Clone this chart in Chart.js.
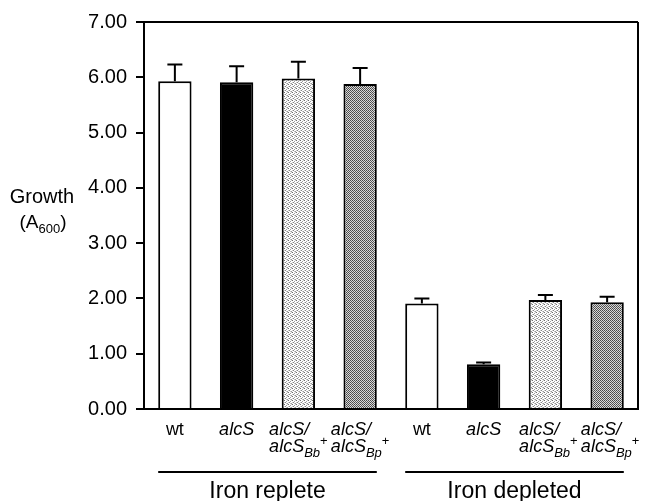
<!DOCTYPE html>
<html>
<head>
<meta charset="utf-8">
<script src="https://cdn.jsdelivr.net/npm/chart.js@4"></script>
<style>
  html, body { margin: 0; padding: 0; background: #fff; }
  #wrap { width: 645px; height: 501px; position: relative; }
</style>
</head>
<body>
<div id="wrap"><canvas id="c"></canvas></div>
<script>
// ---- data ----
const categories = ['wt', 'alcS', 'alcS/alcSBb+', 'alcS/alcSBp+', 'wt', 'alcS', 'alcS/alcSBb+', 'alcS/alcSBp+'];
const labelMarkup = ['wt', 'alcS', 'alcS/|alcS_{Bb}^{+}', 'alcS/|alcS_{Bp}^{+}', 'wt', 'alcS', 'alcS/|alcS_{Bb}^{+}', 'alcS/|alcS_{Bp}^{+}'];
const labelItalic = [false, true, true, true, false, true, true, true];
const growth = [5.93, 5.91, 5.98, 5.88, 1.91, 0.81, 1.97, 1.93];
const growthErr = [0.30, 0.29, 0.30, 0.29, 0.09, 0.03, 0.09, 0.10];
const yTickValues = [0, 1, 2, 3, 4, 5, 6, 7];
const groupLabels = ['Iron replete', 'Iron depleted'];
const groupFirst = [0, 4];
const groupLast = [3, 7];
const yTitleLine1 = 'Growth';
const yTitleLine2 = '(A_{600})';
const fillKinds = ['white', 'black', 'light', 'dark', 'white', 'black', 'light', 'dark'];

const FONT = '"Liberation Sans", Arial, Helvetica, sans-serif';

function makePattern(cells, size) {
  const p = document.createElement('canvas');
  p.width = size; p.height = size;
  const g = p.getContext('2d');
  g.fillStyle = '#ffffff';
  g.fillRect(0, 0, size, size);
  cells.forEach(([x, y, c]) => { g.fillStyle = c; g.fillRect(x, y, 1, 1); });
  return g.createPattern(p, 'repeat');
}
const lightPat = makePattern([[0, 0, '#6e6e6e'], [2, 1, '#a0a0a0'], [1, 2, '#858585'], [3, 3, '#9a9a9a'], [2, 3, '#c5c5c5'], [0, 2, '#cccccc'], [3, 0, '#d0d0d0']], 4);
const darkPat = makePattern([[0, 0, '#484848'], [1, 1, '#585858'], [0, 1, '#dcdcdc'], [1, 0, '#d4d4d4']], 2);
const fillMap = { white: '#ffffff', black: '#000000', light: lightPat, dark: darkPat };

function parseRich(s) {
  const out = [];
  const re = /(_\{[^}]*\}|\^\{[^}]*\})/;
  s.split(re).forEach(part => {
    if (!part) return;
    if (part.startsWith('_{')) out.push({ t: part.slice(2, -1), m: 'sub' });
    else if (part.startsWith('^{')) out.push({ t: part.slice(2, -1), m: 'sup' });
    else out.push({ t: part, m: 'n' });
  });
  return out;
}
function segFont(seg, italic, size) {
  const sz = seg.m === 'n' ? size : Math.round(size * 0.7);
  const it = (italic && seg.t !== '+') ? 'italic ' : '';
  return it + sz + 'px ' + FONT;
}
function lineWidth(ctx, segs, italic, size) {
  let w = 0;
  segs.forEach(s => { ctx.font = segFont(s, italic, size); w += ctx.measureText(s.t).width; });
  return w;
}
function drawRich(ctx, segs, x, y, italic, size) {
  segs.forEach(s => {
    ctx.font = segFont(s, italic, size);
    let dy = 0;
    if (s.m === 'sub') dy = size * 0.28;
    if (s.m === 'sup') dy = -size * 0.4;
    ctx.fillText(s.t, x, y + dy);
    x += ctx.measureText(s.t).width;
  });
}

const decorPlugin = {
  id: 'decor',
  afterDraw(chart) {
    const ctx = chart.ctx;
    const xs = chart.scales.x, ys = chart.scales.y;
    const ca = chart.chartArea;
    ctx.save();
    ctx.strokeStyle = '#000';
    ctx.fillStyle = '#000';
    // frame top & right
    ctx.lineWidth = 2;
    ctx.beginPath();
    ctx.moveTo(ca.left, ca.top); ctx.lineTo(ca.right, ca.top);
    ctx.moveTo(ca.right, ca.top); ctx.lineTo(ca.right, ca.bottom);
    ctx.stroke();
    // error bars (upper only)
    ctx.lineWidth = 2;
    growth.forEach((v, i) => {
      const x = xs.getPixelForValue(i);
      const y0 = ys.getPixelForValue(v);
      const y1 = ys.getPixelForValue(v + growthErr[i]);
      ctx.beginPath();
      ctx.moveTo(x, y0); ctx.lineTo(x, y1);
      ctx.moveTo(x - 7.5, y1); ctx.lineTo(x + 7.5, y1);
      ctx.stroke();
    });
    // category labels
    ctx.textBaseline = 'alphabetic';
    ctx.textAlign = 'left';
    const size = 18;
    const base1 = 435, gap = 17;
    labelMarkup.forEach((m, i) => {
      const lines = m.split('|').map(parseRich);
      const widths = lines.map(l => lineWidth(ctx, l, labelItalic[i], size));
      const bw = Math.max(...widths);
      const cx = xs.getPixelForValue(i) + (i >= 6 ? 3 : 0);
      lines.forEach((l, k) => {
        drawRich(ctx, l, cx - bw / 2, base1 + k * gap, labelItalic[i], size);
      });
    });
    // group lines and labels
    const barW = chart.getDatasetMeta(0).data[0].width;
    groupLabels.forEach((g, j) => {
      const x0 = xs.getPixelForValue(groupFirst[j]) - barW / 2;
      const x1 = xs.getPixelForValue(groupLast[j]) + barW / 2;
      ctx.lineWidth = 2;
      ctx.beginPath();
      ctx.moveTo(x0, 472); ctx.lineTo(x1, 472);
      ctx.stroke();
      ctx.font = '23px ' + FONT;
      ctx.textAlign = 'center';
      ctx.fillText(g, (x0 + x1) / 2, 498);
      ctx.textAlign = 'left';
    });
    // y title
    ctx.font = '20px ' + FONT;
    ctx.textAlign = 'center';
    ctx.fillText(yTitleLine1, 42, 203);
    ctx.textAlign = 'left';
    const t2 = parseRich(yTitleLine2);
    const w2 = lineWidth(ctx, t2, false, 19);
    drawRich(ctx, t2, 43 - w2 / 2, 228, false, 19);
    ctx.restore();
  }
};

new Chart(document.getElementById('c'), {
  type: 'bar',
  data: {
    labels: categories,
    datasets: [{
      data: growth,
      backgroundColor: fillKinds.map(k => fillMap[k]),
      borderColor: '#000',
      borderWidth: 2,
      borderSkipped: 'bottom',
      categoryPercentage: 1.0,
      barPercentage: 0.54
    }]
  },
  options: {
    responsive: true,
    maintainAspectRatio: false,
    animation: false,
    layout: { padding: { left: 0, top: 22, right: 7, bottom: 92 } },
    plugins: { legend: { display: false }, tooltip: { enabled: false } },
    scales: {
      x: {
        ticks: { display: false },
        grid: { display: false, drawTicks: false },
        border: { display: true, color: '#000', width: 2 },
        afterFit(s) { s.height = 0; }
      },
      y: {
        min: 0, max: 7,
        afterBuildTicks(s) { s.ticks = yTickValues.map(v => ({ value: v })); },
        ticks: {
          color: '#000',
          font: { family: FONT, size: 20 },
          padding: 9,
          callback: v => Number(v).toFixed(2)
        },
        grid: { drawOnChartArea: false, drawTicks: true, tickLength: 8, color: '#000', lineWidth: 2 },
        border: { display: true, color: '#000', width: 2 },
        afterFit(s) { s.width = 144; }
      }
    }
  },
  plugins: [decorPlugin]
});
</script>
</body>
</html>
